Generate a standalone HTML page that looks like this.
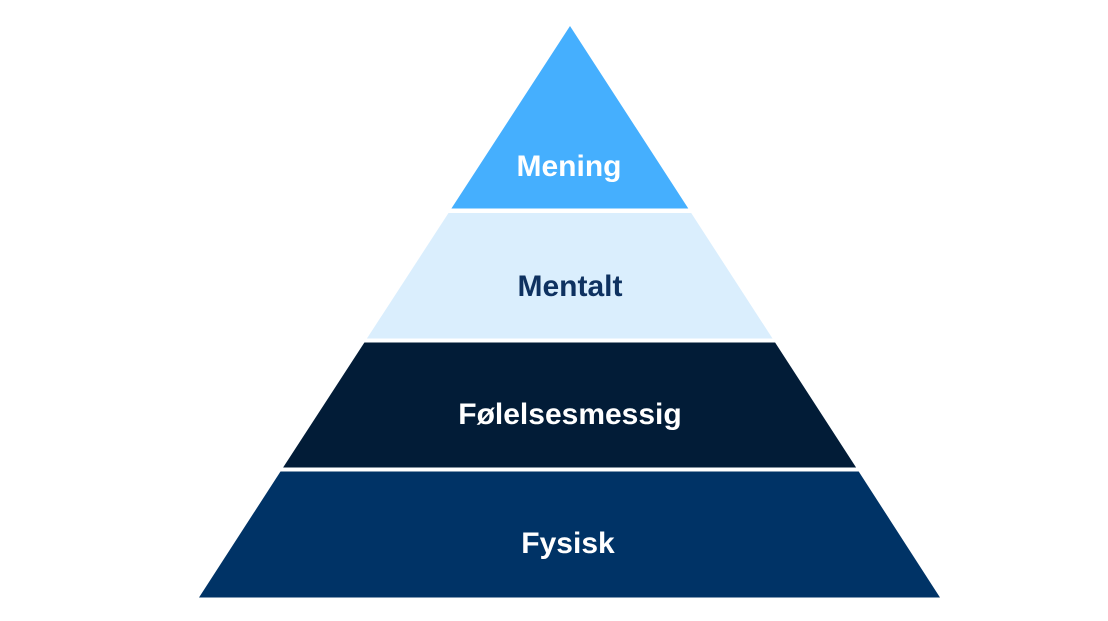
<!DOCTYPE html>
<html>
<head>
<meta charset="utf-8">
<style>
  html, body { margin:0; padding:0; background:#ffffff; }
  body { width:1108px; height:621px; overflow:hidden; }
  svg { display:block; }
  text { font-family: "Liberation Sans", Arial, sans-serif; font-weight:bold; font-size:30px; text-anchor:middle; }
</style>
</head>
<body>
<svg width="1108" height="621" viewBox="0 0 1108 621" xmlns="http://www.w3.org/2000/svg">
  <rect width="1108" height="621" fill="#ffffff"/>
  <polygon points="570,26 688.3,208.5 451.4,208.5" fill="#45AFFE"/>
  <polygon points="448.5,213 691.2,213 772.5,338.5 366.9,338.5" fill="#DAEEFD"/>
  <polygon points="364.4,342.5 775.1,342.5 856.1,467.5 283.1,467.5" fill="#021C37"/>
  <polygon points="280.5,471.5 858.7,471.5 940,597.5 199,597.5" fill="#003366"/>
  <text x="569" y="176" fill="#ffffff">Mening</text>
  <text x="570" y="296" fill="#0E3160">Mentalt</text>
  <text x="570" y="424" fill="#ffffff">Følelsesmessig</text>
  <text x="568" y="553" fill="#ffffff">Fysisk</text>
</svg>
</body>
</html>
